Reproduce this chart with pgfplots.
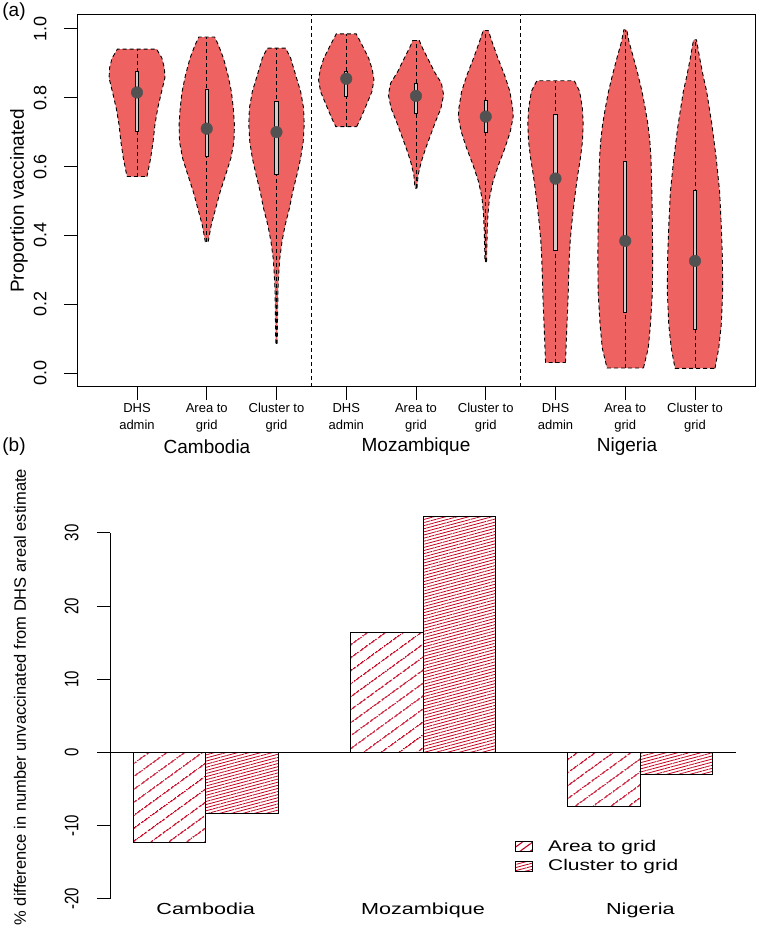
\documentclass[border=0pt]{standalone}
\usepackage{graphicx}
\usepackage{pgfplots}
\pgfplotsset{compat=1.18}
\usepackage{fontspec}
\setmainfont{Liberation Sans}
\newfontfamily\widefont[FakeStretch=1.35]{Liberation Sans}
\usetikzlibrary{patterns.meta}
\definecolor{vfill}{RGB}{238,98,98}
\definecolor{dotgray}{RGB}{82,82,82}
\definecolor{boxgray}{RGB}{212,204,204}
\definecolor{hatch}{RGB}{195,0,30}
\pgfplotsset{
  violin/.style={fill=vfill, draw=black, line width=0.9pt, dash pattern=on 4pt off 3pt},
  whisk/.style={black, line width=0.9pt, dash pattern=on 4pt off 3pt},
  vbox/.style={fill=boxgray, draw=black, line width=0.9pt, solid},
}
\begin{document}
\begin{tikzpicture}[x=1pt,y=1pt]
\useasboundingbox (0,0) rectangle (759,925);
\node[font=\fontsize{19}{22}\selectfont] at (14,913) {(a)};
\node[font=\fontsize{19}{22}\selectfont] at (14,478) {(b)};
% ---------------- panel (a)
\begin{axis}[
  at={(77pt,538pt)}, anchor=south west,
  width=678pt, height=372pt, scale only axis,
  xmin=0.14, xmax=9.86, ymin=-0.04, ymax=1.04,
  axis line style={line width=1pt},
  tick align=outside, major tick length=13pt,
  tick style={black, line width=0.9pt},
  xtick={1,2,3,4,5,6,7,8,9}, xtick pos=bottom, ytick pos=left,
  xticklabels={DHS\\admin, Area to\\grid, Cluster to\\grid, DHS\\admin, Area to\\grid, Cluster to\\grid, DHS\\admin, Area to\\grid, Cluster to\\grid},
  xticklabel style={align=center, font=\fontsize{13}{17}\selectfont},
  ytick={0,0.2,0.4,0.6,0.8,1},
  /pgf/number format/assume math mode=true,
  yticklabel shift=14pt,
  yticklabel style={rotate=90, anchor=south, font=\fontsize{18}{20}\selectfont,
    /pgf/number format/fixed, /pgf/number format/fixed zerofill, /pgf/number format/precision=1},
  ylabel={Proportion vaccinated},
  every axis y label/.style={at={(axis description cs:-0.0855,0.5)}, rotate=90, anchor=center, font=\fontsize{19}{22}\selectfont},
]
% separators
\addplot[whisk] coordinates {(3.5,-0.04)(3.5,1.04)};
\addplot[whisk] coordinates {(6.5,-0.04)(6.5,1.04)};
% violin 1
\addplot[violin] coordinates {(1.143,.571)(1.196,.624)(1.231,.672)(1.257,.721)(1.297,.769)(1.353,.818)(1.400,.857)(1.393,.886)(1.357,.915)(1.281,.941)
 (0.719,.941)(0.643,.915)(0.607,.886)(0.600,.857)(0.647,.818)(0.703,.769)(0.743,.721)(0.769,.672)(0.804,.624)(0.857,.571)} -- cycle;
% violin 2
\addplot[violin] coordinates {(2.021,.382)(2.064,.430)(2.129,.479)(2.193,.527)(2.271,.576)(2.346,.624)(2.390,.672)(2.397,.721)(2.381,.769)(2.353,.818)(2.304,.866)(2.239,.915)(2.167,.953)(2.114,.976)
 (1.886,.976)(1.833,.953)(1.761,.915)(1.696,.866)(1.647,.818)(1.619,.769)(1.603,.721)(1.610,.672)(1.654,.624)(1.729,.576)(1.807,.527)(1.871,.479)(1.936,.430)(1.979,.382)} -- cycle;
% violin 3
\addplot[violin] coordinates {(3.010,.086)(3.014,.140)(3.021,.236)(3.031,.285)(3.047,.333)(3.079,.382)(3.124,.430)(3.186,.479)(3.233,.527)(3.293,.576)(3.346,.624)(3.383,.672)(3.397,.721)(3.389,.769)(3.346,.818)(3.274,.866)(3.203,.915)(3.131,.944)
 (2.869,.944)(2.797,.915)(2.726,.866)(2.654,.818)(2.611,.769)(2.603,.721)(2.617,.672)(2.654,.624)(2.707,.576)(2.767,.527)(2.814,.479)(2.876,.430)(2.921,.382)(2.953,.333)(2.969,.285)(2.979,.236)(2.986,.140)(2.990,.086)} -- cycle;
% violin 4
\addplot[violin] coordinates {(4.150,.716)(4.207,.740)(4.289,.779)(4.369,.818)(4.397,.852)(4.374,.881)(4.321,.915)(4.226,.953)(4.143,.985)
 (3.857,.985)(3.774,.953)(3.679,.915)(3.626,.881)(3.603,.852)(3.631,.818)(3.711,.779)(3.793,.740)(3.850,.716)} -- cycle;
% violin 5
\addplot[violin] coordinates {(5.014,.537)(5.031,.576)(5.076,.614)(5.139,.653)(5.210,.692)(5.281,.731)(5.357,.769)(5.396,.808)(5.364,.842)(5.261,.876)(5.167,.915)(5.093,.944)(5.047,.966)
 (4.953,.966)(4.907,.944)(4.833,.915)(4.739,.876)(4.636,.842)(4.604,.808)(4.643,.769)(4.719,.731)(4.790,.692)(4.861,.653)(4.924,.614)(4.969,.576)(4.986,.537)} -- cycle;
% violin 6
\addplot[violin] coordinates {(6.011,.324)(6.021,.411)(6.031,.459)(6.053,.508)(6.103,.556)(6.183,.605)(6.274,.653)(6.353,.702)(6.393,.745)(6.386,.769)(6.346,.818)(6.269,.866)(6.174,.915)(6.089,.963)(6.036,.995)
 (5.964,.995)(5.911,.963)(5.826,.915)(5.731,.866)(5.654,.818)(5.614,.769)(5.607,.745)(5.647,.702)(5.726,.653)(5.817,.605)(5.897,.556)(5.947,.508)(5.969,.459)(5.979,.411)(5.989,.324)} -- cycle;
% violin 7
\addplot[violin] coordinates {(7.143,.031)(7.154,.091)(7.164,.140)(7.174,.188)(7.183,.236)(7.189,.285)(7.197,.333)(7.210,.382)(7.231,.430)(7.257,.479)(7.286,.527)(7.319,.576)(7.357,.624)(7.386,.672)(7.397,.721)(7.386,.769)(7.346,.818)(7.269,.849)
 (6.731,.849)(6.654,.818)(6.614,.769)(6.603,.721)(6.614,.672)(6.643,.624)(6.681,.576)(6.714,.527)(6.743,.479)(6.769,.430)(6.790,.382)(6.803,.333)(6.811,.285)(6.817,.236)(6.826,.188)(6.836,.140)(6.846,.091)(6.857,.031)} -- cycle;
% violin 8
\addplot[violin] coordinates {(8.261,.015)(8.329,.072)(8.361,.140)(8.389,.236)(8.393,.333)(8.389,.430)(8.381,.527)(8.369,.624)(8.353,.672)(8.326,.721)(8.286,.769)(8.240,.818)(8.183,.866)(8.119,.915)(8.053,.963)(8.021,.997)
 (7.979,.997)(7.947,.963)(7.881,.915)(7.817,.866)(7.760,.818)(7.714,.769)(7.674,.721)(7.647,.672)(7.631,.624)(7.619,.527)(7.611,.430)(7.607,.333)(7.611,.236)(7.639,.140)(7.671,.072)(7.739,.015)} -- cycle;
% violin 9
\addplot[violin] coordinates {(9.286,.014)(9.340,.072)(9.376,.140)(9.397,.236)(9.393,.333)(9.376,.430)(9.353,.527)(9.304,.624)(9.243,.721)(9.167,.818)(9.114,.866)(9.067,.915)(9.021,.968)
 (8.979,.968)(8.933,.915)(8.886,.866)(8.833,.818)(8.757,.721)(8.696,.624)(8.647,.527)(8.624,.430)(8.607,.333)(8.603,.236)(8.624,.140)(8.660,.072)(8.714,.014)} -- cycle;
% whiskers
\addplot[whisk] coordinates {(1,.571)(1,.941)};
\addplot[whisk] coordinates {(2,.382)(2,.976)};
\addplot[whisk] coordinates {(3,.086)(3,.944)};
\addplot[whisk] coordinates {(4,.716)(4,.985)};
\addplot[whisk] coordinates {(5,.537)(5,.966)};
\addplot[whisk] coordinates {(6,.324)(6,.995)};
\addplot[whisk] coordinates {(7,.031)(7,.849)};
\addplot[whisk] coordinates {(8,.015)(8,.997)};
\addplot[whisk] coordinates {(9,.014)(9,.968)};
% boxes
\addplot[vbox] coordinates {(0.976,.703)(1.024,.703)(1.024,.876)(0.976,.876)} -- cycle;
\addplot[vbox] coordinates {(1.976,.630)(2.024,.630)(2.024,.823)(1.976,.823)} -- cycle;
\addplot[vbox] coordinates {(2.976,.578)(3.024,.578)(3.024,.789)(2.976,.789)} -- cycle;
\addplot[vbox] coordinates {(3.976,.803)(4.024,.803)(4.024,.876)(3.976,.876)} -- cycle;
\addplot[vbox] coordinates {(4.976,.755)(5.024,.755)(5.024,.840)(4.976,.840)} -- cycle;
\addplot[vbox] coordinates {(5.976,.700)(6.024,.700)(6.024,.792)(5.976,.792)} -- cycle;
\addplot[vbox] coordinates {(6.976,.356)(7.024,.356)(7.024,.750)(6.976,.750)} -- cycle;
\addplot[vbox] coordinates {(7.976,.176)(8.024,.176)(8.024,.616)(7.976,.616)} -- cycle;
\addplot[vbox] coordinates {(8.976,.127)(9.024,.127)(9.024,.532)(8.976,.532)} -- cycle;
% medians
\addplot[only marks, mark=*, mark size=5.8pt, mark options={fill=dotgray, draw=dotgray, solid}]
  coordinates {(1,.815)(2,.710)(3,.700)(4,.855)(5,.805)(6,.745)(7,.565)(8,.384)(9,.326)};
\end{axis}
\node[font=\fontsize{19}{22}\selectfont] at (207,478) {Cambodia};
\node[font=\fontsize{19}{22}\selectfont] at (416,478) {Mozambique};
\node[font=\fontsize{19}{22}\selectfont] at (627,478) {Nigeria};
% ---------------- panel (b)
\begin{axis}[
  at={(110pt,26.3pt)}, anchor=south west,
  width=626pt, height=387.7pt, scale only axis, clip=false,
  xmin=0.68, xmax=9.32, ymin=-20, ymax=33,
  axis y line=left, axis x line=bottom, axis line style={draw=none,-},
  tick align=outside, major tick length=13pt,
  tick style={black, line width=0.9pt},
  xtick={2,5,8}, xticklabels={Cambodia, Mozambique, Nigeria},
  x tick style={draw=none},
  xticklabel style={font=\widefont\fontsize{16}{19}\selectfont, yshift=12pt},
  ytick={-20,-10,0,10,20,30},
  /pgf/number format/assume math mode=true,
  yticklabel={\scalebox{1}[1.3]{\pgfmathprintnumber{\tick}}},
  yticklabel shift=15pt,
  yticklabel style={rotate=90, anchor=south, font=\fontsize{15}{17}\selectfont},
  ylabel={\% difference in number unvaccinated from DHS areal estimate},
  every axis y label/.style={at={(axis description cs:-0.1438,0.52)}, rotate=90, anchor=center, font=\fontsize{16.5}{19}\selectfont},
  legend style={at={(axis cs:6.22,-11.4)}, anchor=north west, draw=none, fill=none,
    font=\widefont\fontsize{15.5}{19}\selectfont, row sep=3pt},
  legend cell align=left,
]
\addplot[black, line width=0.9pt, forget plot] coordinates {(0.68,-20)(0.68,30)};
\addplot[black, line width=0.9pt, forget plot] coordinates {(0.68,0)(9.32,0)};
\addplot[ybar, bar width=1, bar shift=0pt, draw=black, line width=0.9pt,
  pattern={Lines[angle=36,distance=10.5pt,line width=1.1pt]}, pattern color=hatch,
  legend image code/.code={\draw[black, line width=0.9pt, pattern={Lines[angle=36,distance=6pt,line width=1.1pt]}, pattern color=hatch] (0pt,-5pt) rectangle (17pt,5pt); \path[draw=none, fill=none] (0pt,0pt) -- (31pt,0pt);}]
  coordinates {(1.5,-12.3)(4.5,16.4)(7.5,-7.4)};
\addlegendentry{Area to grid}
\addplot[ybar, bar width=1, bar shift=0pt, draw=black, line width=0.9pt,
  pattern={Lines[angle=15,distance=3pt,line width=0.8pt]}, pattern color=hatch,
  legend image code/.code={\draw[black, line width=0.9pt, pattern={Lines[angle=15,distance=3pt,line width=0.8pt]}, pattern color=hatch] (0pt,-5pt) rectangle (17pt,5pt); \path[draw=none, fill=none] (0pt,0pt) -- (31pt,0pt);}]
  coordinates {(2.5,-8.4)(5.5,32.2)(8.5,-3.0)};
\addlegendentry{Cluster to grid}
\end{axis}
\end{tikzpicture}
\end{document}
